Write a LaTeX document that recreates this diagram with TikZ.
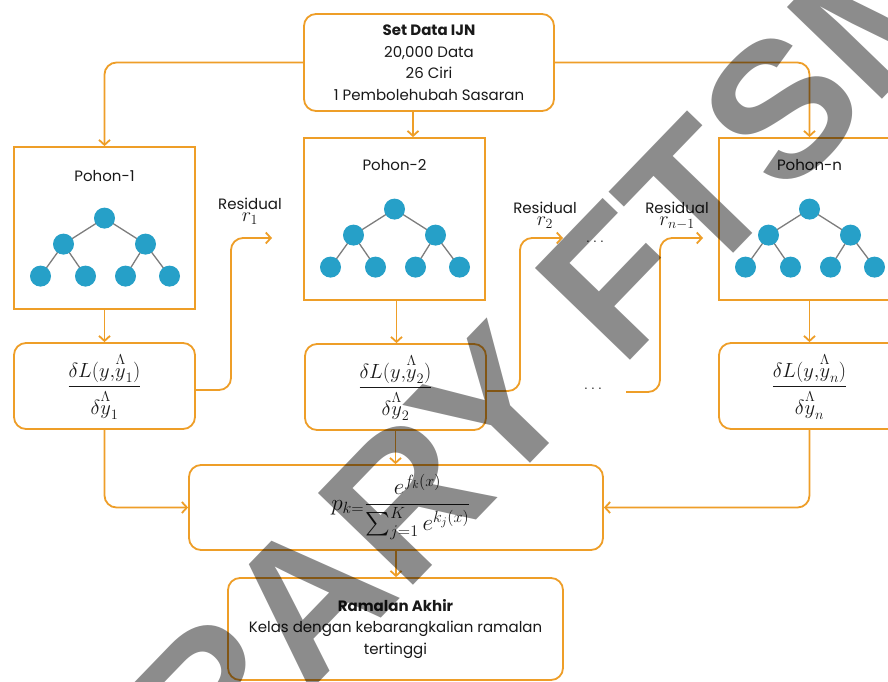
\RequirePackage{fix-cm}
\documentclass[tikz,border=0pt]{standalone}
\usepackage{amsmath}
\usepackage{graphicx}
\usepackage{fontspec}
\setmainfont{Poppins}
\newfontfamily\wmfont{Liberation Sans}
\usetikzlibrary{arrows.meta}
\definecolor{org}{RGB}{238,158,40}
\definecolor{tblue}{RGB}{38,160,200}
\definecolor{tgray}{RGB}{125,125,125}
\definecolor{ink}{RGB}{25,25,25}
\newcommand\gbtree[1]{%
  \begin{scope}[shift={(#1)}]
    \draw[tedge] (0,72) -- (-41,98) (0,72) -- (41,98)
      (-41,98) -- (-64,130) (-41,98) -- (-19,130)
      (41,98) -- (21,130) (41,98) -- (65,130);
    \foreach \p in {(0,72),(-41,98),(41,98),(-64,130),(-19,130),(21,130),(65,130)}
      \fill[tblue] \p circle (10.5pt);
  \end{scope}}
\begin{document}
\begin{tikzpicture}[x=1pt,y=-1pt,
  pbox/.style={draw=org, line width=1.8pt, minimum width=181pt, minimum height=162pt, inner sep=0pt},
  rbox/.style={draw=org, line width=1.8pt, rounded corners=12pt, inner sep=0pt, align=center},
  conn/.style={draw=org, line width=1.8pt, rounded corners=12pt, -{Straight Barb[length=5pt,width=11pt]}},
  lbl/.style={font=\fontsize{15}{21.5}\selectfont, text=ink, inner sep=0pt, align=center},
  mth/.style={font=\fontsize{20.5}{24}\selectfont, text=ink},
  rlab/.style={font=\fontsize{20}{20}\selectfont, text=ink, inner sep=0pt},
  tedge/.style={draw=tgray, line width=1.3pt}]
\clip (0,0) rectangle (888,682);
\fill[white] (0,0) rectangle (888,682);
% boxes
\node[rbox, lbl, minimum width=250pt, minimum height=97pt] (top) at (429,62.5)
  {\textbf{Set Data IJN}\\20,000 Data\\26 Ciri\\1 Pembolehubah Sasaran};
\node[pbox] (p1) at (104.5,228) {};
\node[pbox] (p2) at (394.5,219) {};
\node[pbox] (pn) at (809.5,219) {};
\node[lbl] (p1t) at ([yshift=-30pt]p1.north) {Pohon-1};
\node[lbl] (p2t) at ([yshift=-28pt]p2.north) {Pohon-2};
\node[lbl] (pnt) at ([yshift=-28pt]pn.north) {Pohon-n};
\gbtree{p1.north}
\gbtree{p2.north}
\gbtree{pn.north}
\node[rbox, mth, minimum width=181pt, minimum height=86pt] (g1) at (104.5,386)
  {$\displaystyle\frac{\delta L(y{,}\overset{\Lambda}{y}_1)}{\delta\overset{\Lambda}{y}_1}$};
\node[rbox, mth, minimum width=181pt, minimum height=86pt] (g2) at (395.5,387)
  {$\displaystyle\frac{\delta L(y{,}\overset{\Lambda}{y}_2)}{\delta\overset{\Lambda}{y}_2}$};
\node[rbox, mth, minimum width=181pt, minimum height=86pt] (gn) at (809.5,386)
  {$\displaystyle\frac{\delta L(y{,}\overset{\Lambda}{y}_n)}{\delta\overset{\Lambda}{y}_n}$};
\node[rbox, minimum width=414pt, minimum height=85pt] (form) at (396,507.5) {};
\node[mth, inner sep=0pt] (formt) at (401,507)
  {\scalebox{1.13}{$\displaystyle p_{k=}\frac{e^{f_k(x)}}{\sum_{j=1}^{K}e^{k_j(x)}}$}};
\node[rbox, lbl, minimum width=335pt, minimum height=102pt] (final) at (395.5,629)
  {\textbf{Ramalan Akhir}\\Kelas dengan kebarangkalian ramalan\\tertinggi};
% residual labels
\node[lbl] (res1) at (250,204) {Residual};
\node[rlab] (r1) at (250,219) {$r_1$};
\node[lbl] (res2) at (545,208) {Residual};
\node[rlab] (r2) at (545,223) {$r_2$};
\node[lbl] (res3) at (677,208) {Residual};
\node[rlab] (r3) at (677,223) {$r_{n-1}$};
\node[rlab, font=\fontsize{16}{16}\selectfont] (dot1) at (595,242) {$\ldots$};
\node[rlab, font=\fontsize{16}{16}\selectfont] (dot2) at (593,389) {$\ldots$};
\coordinate (r1c) at (231,238);
\coordinate (r1e) at (272,238);
\coordinate (r2c) at (520,238);
\coordinate (r2e) at (563,238);
\coordinate (r3s) at (626,392);
\coordinate (r3c) at (660,238);
\coordinate (r3e) at (703,238);
% connectors
\draw[conn] (top.west) -| (p1.north);
\draw[conn] (top.east) -| (pn.north);
\draw[conn] ([xshift=-16pt]top.south) -- ([xshift=-16pt]top.south |- p2.north);
\draw[conn] (p1.south) -- (g1.north);
\draw[conn] ([xshift=2pt]p2.south) -- ([xshift=2pt]p2.south |- g2.north);
\draw[conn] (pn.south) -- (gn.north);
\draw[conn] ([yshift=-4pt]g1.east) -| (r1c) -- (r1e);
\draw[conn] ([yshift=-4pt]g2.east) -| (r2c) -- (r2e);
\draw[conn] (r3s) -| (r3c) -- (r3e);
\draw[conn] (g1.south) |- (form.west);
\draw[conn] (g2.south) -- (g2.south |- form.north);
\draw[conn] (gn.south) |- (form.east);
\draw[conn] (form.south) -- (form.south |- final.north);
% watermark
\node[rotate=46, text=black, opacity=0.45, inner sep=0pt,
  font=\fontsize{192}{192}\selectfont\wmfont\bfseries] (wm) at (443,459) {LIBRARY FTSM};
\end{tikzpicture}
\end{document}
